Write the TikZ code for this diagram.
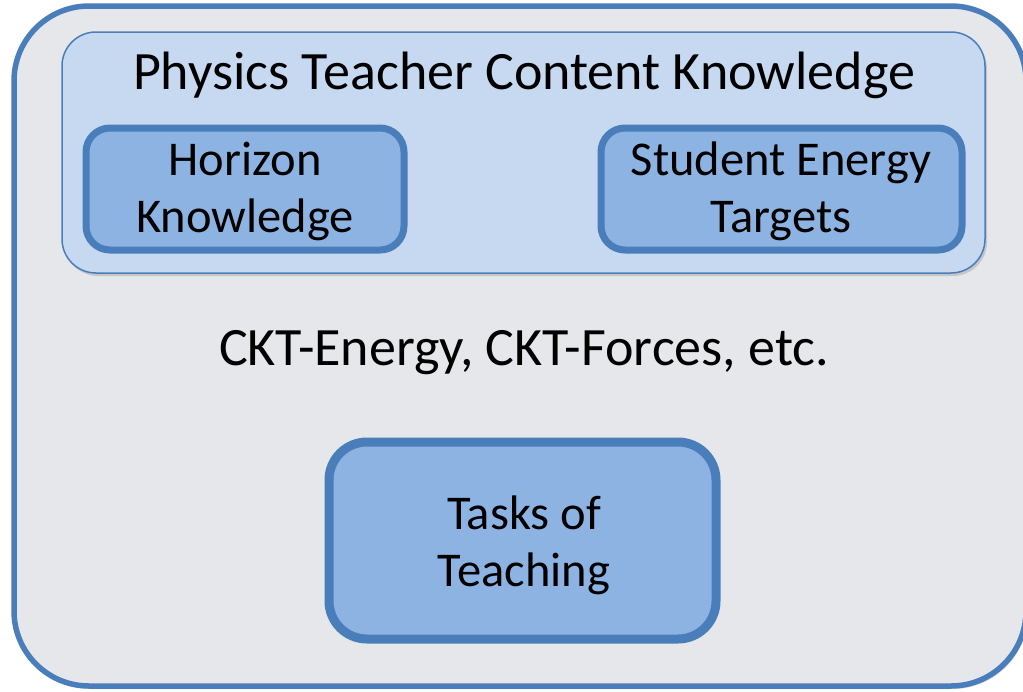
\documentclass[tikz,border=0pt]{standalone}
\usepackage{fontspec}
\setmainfont{Carlito}
\usetikzlibrary{shadows,calc}
\definecolor{edgeblue}{HTML}{4A7EBB}
\definecolor{outerfill}{HTML}{E6E7EB}
\definecolor{panelfill}{HTML}{C6D9F1}
\definecolor{boxfill}{HTML}{8DB3E2}
\tikzset{
  outerbox/.style={draw=edgeblue, line width=5.5pt, fill=outerfill, rounded corners=75pt,
    drop shadow={shadow xshift=2pt, shadow yshift=-3pt, opacity=0.25, fill=black!60}},
  panel/.style={draw=edgeblue, line width=1.5pt, fill=panelfill, rounded corners=34pt,
    drop shadow={shadow xshift=2pt, shadow yshift=-3pt, opacity=0.25, fill=black!60}},
  innerbox/.style={draw=edgeblue, line width=7pt, fill=boxfill, rounded corners=24pt,
    drop shadow={shadow xshift=2pt, shadow yshift=-3pt, opacity=0.3, fill=black!60}},
  bigtext/.style={font=\fontsize{54}{57}\selectfont, align=center, text=black, inner sep=0pt},
  boxtext/.style={font=\fontsize{48.5}{57}\selectfont, align=center, text=black, inner sep=0pt},
}
\begin{document}
\begin{tikzpicture}[x=1pt,y=-1pt]
\useasboundingbox (0,0) rectangle (1023,691);
\draw[outerbox] (14,6) rectangle (1026,686);
\draw[panel] (62,32) rectangle (985,273);
\node[bigtext] (title) at (524,75) {Physics Teacher Content Knowledge};
\draw[innerbox] (86,128) rectangle (404,250);
\node[boxtext] (hk) at (245,191) {Horizon\\Knowledge};
\draw[innerbox] (601,128) rectangle (962,250);
\node[boxtext] (set) at (781,191) {Student Energy\\Targets};
\node[bigtext] (ckt) at (524,353) {CKT-Energy, CKT-Forces, etc.};
\draw[innerbox, line width=9pt, rounded corners=38pt] (329,442) rectangle (716,639);
\node[boxtext] (tt) at (524,545) {Tasks of\\Teaching};
\end{tikzpicture}
\end{document}
